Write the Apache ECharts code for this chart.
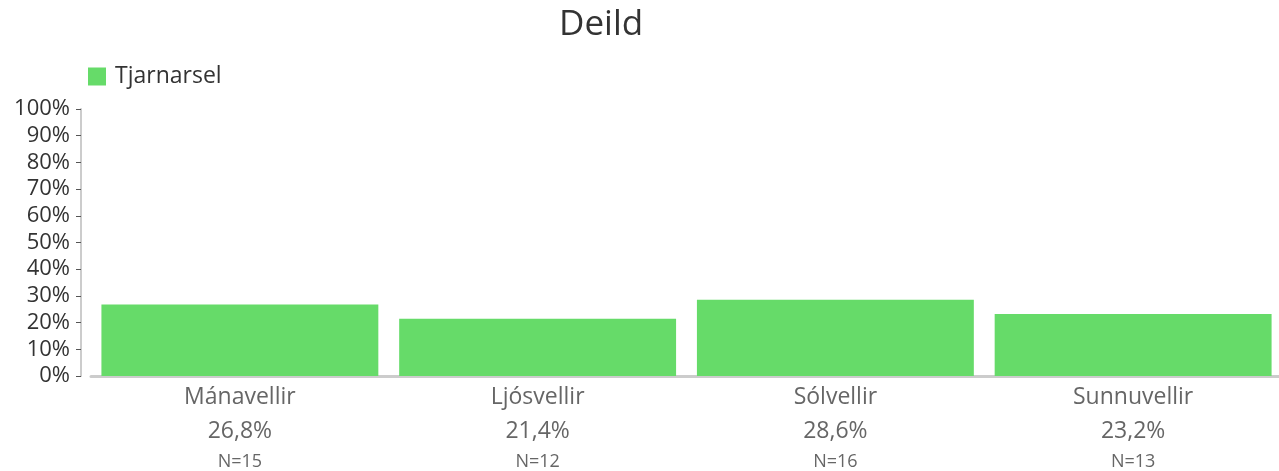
<!DOCTYPE html>
<html>
<head>
<meta charset="utf-8">
<script src="https://cdn.jsdelivr.net/npm/echarts@6/dist/echarts.min.js"></script>
<style>
  html, body { margin: 0; padding: 0; background: #fff; }
  #chart { width: 1279px; height: 471px; }
</style>
</head>
<body>
<div id="chart"></div>
<script>
const categories = ['Mánavellir', 'Ljósvellir', 'Sólvellir', 'Sunnuvellir']
const values = [26.8, 21.4, 28.6, 23.2]
const counts = [15, 12, 16, 13]
const seriesName = 'Tjarnarsel'

const font = 'Open Sans'
const chart = echarts.init(document.getElementById('chart'), null, { renderer: 'canvas' })

const option = {
  animation: false,
  textStyle: { fontFamily: font },
  title: {
    text: 'Deild',
    left: 554,
    top: 3,
    textStyle: { fontSize: 35, fontWeight: 'normal', color: '#333', fontFamily: font }
  },
  legend: {
    left: 88,
    top: 65,
    padding: 0,
    itemWidth: 18,
    itemHeight: 18,
    itemGap: 10,
    icon: 'rect',
    textStyle: { fontSize: 23, color: '#333', fontFamily: font, padding: [0, 0, 0, 4] },
    data: [seriesName]
  },
  grid: {
    left: 91,
    width: 1191,
    top: 109,
    bottom: 95,
    outerBoundsMode: 'none',
    containLabel: false
  },
  xAxis: {
    type: 'category',
    data: categories,
    axisLine: { lineStyle: { color: '#ccc', width: 3 } },
    axisTick: { show: false },
    axisLabel: {
      interval: 0,
      margin: 4,
      formatter: function (name, idx) {
        const v = values[idx].toFixed(1).replace('.', ',')
        return '{name|' + name + '}\n{val|' + v + '%}\n{n|N=' + counts[idx] + '}'
      },
      rich: {
        name: { fontSize: 23, color: '#666', lineHeight: 34, fontFamily: font },
        val: { fontSize: 23, color: '#666', lineHeight: 34, fontFamily: font },
        n: { fontSize: 18, color: '#666', lineHeight: 28, fontFamily: font }
      }
    }
  },
  yAxis: {
    type: 'value',
    min: 0,
    max: 100,
    interval: 10,
    offset: 10,
    axisLine: { show: true, lineStyle: { color: '#ccc', width: 2 } },
    axisTick: { show: true, length: 5, lineStyle: { color: '#555' } },
    splitLine: { show: false },
    axisLabel: {
      fontSize: 22,
      color: '#333',
      margin: 11,
      formatter: '{value}%'
    }
  },
  series: [
    {
      name: seriesName,
      type: 'bar',
      data: values,
      barCategoryGap: '7%',
      itemStyle: { color: '#66db69' }
    }
  ]
}

chart.setOption(option)
</script>
</body>
</html>
